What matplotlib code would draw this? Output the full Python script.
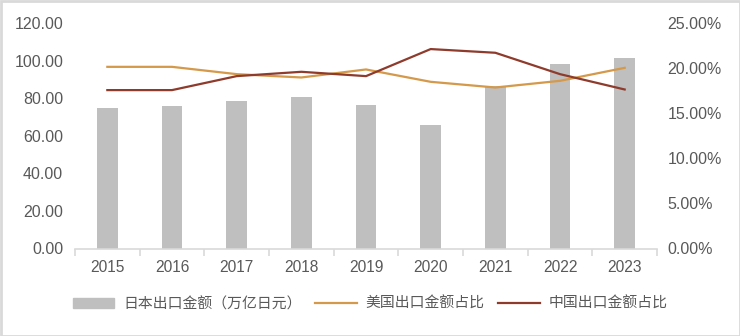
import matplotlib
matplotlib.use("Agg")
import matplotlib.pyplot as plt
from matplotlib.patches import Rectangle
from matplotlib.lines import Line2D
from matplotlib.ticker import FuncFormatter, MultipleLocator

plt.rcParams['font.family'] = ['Liberation Sans', 'Noto Sans CJK SC', 'DejaVu Sans']

years = ['2015', '2016', '2017', '2018', '2019', '2020', '2021', '2022', '2023']
japan_exports = [75.0, 75.6, 78.6, 80.7, 76.4, 65.6, 86.4, 98.3, 101.5]   # 万亿日元
us_share = [20.14, 20.14, 19.33, 18.96, 19.85, 18.48, 17.85, 18.59, 20.03]  # %
cn_share = [17.56, 17.56, 19.11, 19.59, 19.11, 22.11, 21.70, 19.33, 17.63]  # %

label_bar = '日本出口金额（万亿日元）'
label_us = '美国出口金额占比'
label_cn = '中国出口金额占比'

bar_color = '#BFBFBF'
us_color = '#D4994A'
cn_color = '#8E3B2C'
text_color = '#595959'
axis_color = '#D9D9D9'

W, H = 740, 336
fig = plt.figure(figsize=(W / 100, H / 100), dpi=100)
fig.patches.append(Rectangle((0.5 / W, 0.5 / H), 1 - 1.0 / W, 1 - 1.0 / H,
                             transform=fig.transFigure, fill=False,
                             edgecolor=axis_color, linewidth=2.0))

ax = fig.add_axes([75 / W, 1 - 248.5 / H, (657 - 75) / W, (248.5 - 23) / H])
x = list(range(len(years)))
ax.bar(x, japan_exports, width=0.32, color=bar_color, zorder=2)
ax.set_xlim(-0.5, len(years) - 0.5)
ax.set_ylim(0, 120)
ax.yaxis.set_major_locator(MultipleLocator(20))
ax.yaxis.set_major_formatter(FuncFormatter(lambda v, p: f'{v:.2f}'))

for s in ['top', 'right', 'left']:
    ax.spines[s].set_visible(False)
ax.spines['bottom'].set_color(axis_color)
ax.spines['bottom'].set_linewidth(1.2)

ax.set_xticks(x)
ax.set_xticklabels(years)
ax.tick_params(axis='x', length=0, pad=8, labelsize=11.2, labelcolor=text_color)
ax.set_xticks([i - 0.5 for i in range(len(years) + 1)], minor=True)
ax.tick_params(axis='x', which='minor', length=5, width=1.2, color=axis_color)
ax.tick_params(axis='y', length=0, pad=8.5, labelsize=11.5, labelcolor=text_color)

ax2 = ax.twinx()
ax2.plot(x, us_share, color=us_color, linewidth=1.6, zorder=3)
ax2.plot(x, cn_share, color=cn_color, linewidth=1.6, zorder=4)
ax2.set_ylim(0, 25)
ax2.yaxis.set_major_locator(MultipleLocator(5))
ax2.yaxis.set_major_formatter(FuncFormatter(lambda v, p: f'{v:.2f}%'))
for s in ['top', 'right', 'left', 'bottom']:
    ax2.spines[s].set_visible(False)
ax2.tick_params(axis='y', length=0, pad=7.5, labelsize=11.5, labelcolor=text_color)

handles = [
    Rectangle((0, 0), 1, 1, color=bar_color),
    Line2D([0], [0], color=us_color, linewidth=1.6),
    Line2D([0], [0], color=cn_color, linewidth=1.6),
]
leg = fig.legend(handles, [label_bar, label_us, label_cn], loc='center',
                 bbox_to_anchor=(0.5, 1 - 304 / H), ncol=3, frameon=False,
                 fontsize=10.7, handlelength=2.8, handleheight=0.6,
                 handletextpad=0.6, columnspacing=0.9)
for t in leg.get_texts():
    t.set_color(text_color)
    t.set_family(['Noto Sans CJK SC', 'DejaVu Sans'])

fig.savefig('out.png', dpi=100)
